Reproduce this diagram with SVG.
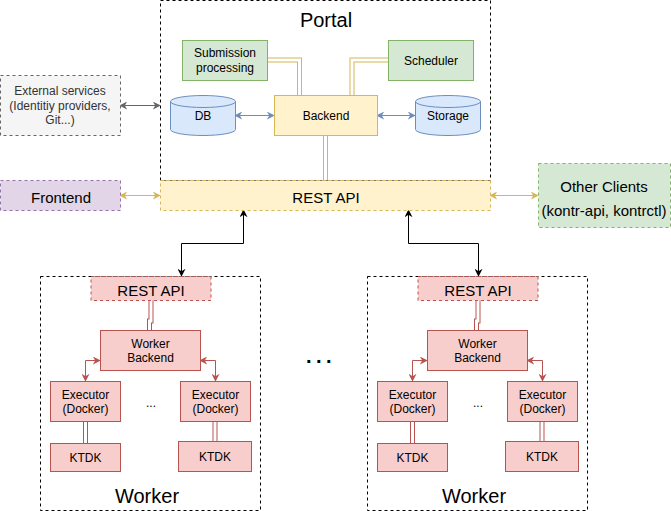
<svg xmlns="http://www.w3.org/2000/svg" width="671" height="511" viewBox="0 0 671 511">
<style>
text{font-family:"Liberation Sans",Arial,sans-serif;fill:#000;text-anchor:middle;dominant-baseline:central}
.dash{fill:none;stroke:#000;stroke-dasharray:3 3}
.green{fill:#d5e8d4;stroke:#82b366}
.yellow{fill:#fff2cc;stroke:#d6b656}
.blue{fill:#dae8fc;stroke:#6c8ebf}
.red{fill:#f8cecc;stroke:#b85450}
.dsh{stroke-dasharray:3 3}
.f12{font-size:12px}
.f15{font-size:15px}
.f20{font-size:20px}
.linkY{fill:none;stroke:#d6b656;stroke-width:5}
.linkR{fill:none;stroke:#b85450;stroke-width:5}
.linkIn{fill:none;stroke:#fff;stroke-width:3}
</style>
<defs>
<marker id="aK" viewBox="0 0 10 10" refX="9" refY="5" markerWidth="8" markerHeight="8" markerUnits="userSpaceOnUse" orient="auto-start-reverse"><path d="M0,0 L10,5 L0,10 L3,5 z" fill="#000"/></marker>
<marker id="aB" viewBox="0 0 10 10" refX="9" refY="5" markerWidth="8" markerHeight="8" markerUnits="userSpaceOnUse" orient="auto-start-reverse"><path d="M0,0 L10,5 L0,10 L3,5 z" fill="#6c8ebf"/></marker>
<marker id="aG" viewBox="0 0 10 10" refX="9" refY="5" markerWidth="8" markerHeight="8" markerUnits="userSpaceOnUse" orient="auto-start-reverse"><path d="M0,0 L10,5 L0,10 L3,5 z" fill="#666666"/></marker>
<marker id="aY" viewBox="0 0 10 10" refX="9" refY="5" markerWidth="8" markerHeight="8" markerUnits="userSpaceOnUse" orient="auto-start-reverse"><path d="M0,0 L10,5 L0,10 L3,5 z" fill="#d6b656"/></marker>
<marker id="aR" viewBox="0 0 10 10" refX="9" refY="5" markerWidth="8" markerHeight="8" markerUnits="userSpaceOnUse" orient="auto-start-reverse"><path d="M0,0 L10,5 L0,10 L3,5 z" fill="#b85450"/></marker>
</defs>

<g id="portal">
<rect class="dash" x="160.5" y="0.5" width="330" height="180"/>
<text class="f20" x="326" y="20">Portal</text>
</g>

<g id="worker1">
<rect class="dash" x="40.5" y="276.5" width="220" height="234"/>
<text class="f20" x="147" y="496">Worker</text>
</g>
<g id="worker2">
<rect class="dash" x="367.5" y="276.5" width="220" height="234"/>
<text class="f20" x="474" y="496">Worker</text>
</g>

<g id="connectors">
<path class="linkY" d="M267,60 H299.5 V95"/><path class="linkIn" d="M267,60 H299.5 V95"/>
<path class="linkY" d="M388,60 H352 V95"/><path class="linkIn" d="M388,60 H352 V95"/>
<path class="linkY" d="M325.5,135 V180"/><path class="linkIn" d="M325.5,135 V180"/>
<path d="M235,115.5 H274" stroke="#6c8ebf" fill="none" marker-start="url(#aB)" marker-end="url(#aB)"/>
<path d="M377,115.5 H415" stroke="#6c8ebf" fill="none" marker-start="url(#aB)" marker-end="url(#aB)"/>
<path d="M120,105.5 H160" stroke="#666666" fill="none" marker-start="url(#aG)" marker-end="url(#aG)"/>
<path d="M120,195.5 H160" stroke="#d6b656" fill="none" marker-start="url(#aY)" marker-end="url(#aY)"/>
<path d="M490,195.5 H538" stroke="#d6b656" fill="none" marker-start="url(#aY)" marker-end="url(#aY)"/>
<path d="M181.5,276 V243.5 H243.5 V210" stroke="#000" fill="none" marker-start="url(#aK)" marker-end="url(#aK)"/>
<path d="M408.5,210 V243.5 H478.5 V276" stroke="#000" fill="none" marker-start="url(#aK)" marker-end="url(#aK)"/>
<!-- worker 1 -->
<path class="linkR" d="M151,300 V321 H149.5 V330"/><path class="linkIn" d="M151,300 V321 H149.5 V330"/>
<path d="M100,360.5 H85.5 V381" stroke="#b85450" fill="none" marker-start="url(#aR)" marker-end="url(#aR)"/>
<path d="M200,360.5 H215.5 V381" stroke="#b85450" fill="none" marker-start="url(#aR)" marker-end="url(#aR)"/>
<path class="linkR" d="M85.5,421 V443"/><path class="linkIn" d="M85.5,421 V443"/>
<path class="linkR" d="M215,421 V441"/><path class="linkIn" d="M215,421 V441"/>
<!-- worker 2 -->
<path class="linkR" d="M478,300 V321 H476.5 V330"/><path class="linkIn" d="M478,300 V321 H476.5 V330"/>
<path d="M427,360.5 H412.5 V381" stroke="#b85450" fill="none" marker-start="url(#aR)" marker-end="url(#aR)"/>
<path d="M527,360.5 H542.5 V381" stroke="#b85450" fill="none" marker-start="url(#aR)" marker-end="url(#aR)"/>
<path class="linkR" d="M412.5,421 V443"/><path class="linkIn" d="M412.5,421 V443"/>
<path class="linkR" d="M542,421 V441"/><path class="linkIn" d="M542,421 V441"/>
</g>

<g id="submission">
<rect class="green" x="182.5" y="40.5" width="85" height="40"/>
<text class="f12" x="225" y="53">Submission</text>
<text class="f12" x="225" y="68">processing</text>
</g>
<g id="scheduler">
<rect class="green" x="388.5" y="40.5" width="85" height="40"/>
<text class="f12" x="431" y="60.5">Scheduler</text>
</g>
<g id="backend">
<rect class="yellow" x="274.5" y="95.5" width="103" height="40"/>
<text class="f12" x="326" y="115.5">Backend</text>
</g>
<g id="db">
<path class="blue" d="M170.5,101.5 a32.5,6 0 0,1 65,0 v28 a32.5,6 0 0,1 -65,0 z"/>
<path d="M170.5,101.5 a32.5,6 0 0,0 65,0" fill="none" stroke="#6c8ebf"/>
<text class="f12" x="203" y="115.5">DB</text>
</g>
<g id="storage">
<path class="blue" d="M415.5,101.5 a32.5,6 0 0,1 65,0 v28 a32.5,6 0 0,1 -65,0 z"/>
<path d="M415.5,101.5 a32.5,6 0 0,0 65,0" fill="none" stroke="#6c8ebf"/>
<text class="f12" x="448" y="115.5">Storage</text>
</g>
<g id="rest-api">
<rect class="yellow dsh" x="160.5" y="180.5" width="330" height="30"/>
<text class="f15" x="326" y="197">REST API</text>
</g>
<g id="external">
<rect x="0.5" y="75.5" width="120" height="60" fill="#f5f5f5" stroke="#666666" class="dsh"/>
<text class="f12" x="60" y="91" style="fill:#333333">External services</text>
<text class="f12" x="60" y="105.5" style="fill:#333333">(Identitiy providers,</text>
<text class="f12" x="60" y="120" style="fill:#333333">Git...)</text>
</g>
<g id="frontend">
<rect x="0.5" y="180.5" width="120" height="30" fill="#e1d5e7" stroke="#9673a6" class="dsh"/>
<text class="f15" x="61" y="197">Frontend</text>
</g>
<g id="other-clients">
<rect class="green dsh" x="538.5" y="163.5" width="132" height="64"/>
<text class="f15" x="604" y="186">Other Clients</text>
<text class="f15" x="604" y="210">(kontr-api, kontrctl)</text>
</g>

<g id="w1-rest">
<rect class="red dsh" x="91" y="276.5" width="120" height="24"/>
<text class="f15" x="151" y="290">REST API</text>
</g>
<g id="w1-backend">
<rect class="red" x="100.5" y="330.5" width="100" height="40"/>
<text class="f12" x="150.5" y="344">Worker</text>
<text class="f12" x="150.5" y="358">Backend</text>
</g>
<g id="w1-exec1">
<rect class="red" x="50.5" y="381.5" width="70" height="40"/>
<text class="f12" x="85.5" y="394.5">Executor</text>
<text class="f12" x="85.5" y="408.5">(Docker)</text>
</g>
<g id="w1-exec2">
<rect class="red" x="180.5" y="381.5" width="70" height="40"/>
<text class="f12" x="215.5" y="394.5">Executor</text>
<text class="f12" x="215.5" y="408.5">(Docker)</text>
</g>
<text class="f12" x="151" y="403">...</text>
<g id="w1-ktdk1">
<rect class="red" x="50.5" y="443.5" width="70" height="28"/>
<text class="f12" x="85.5" y="457.5">KTDK</text>
</g>
<g id="w1-ktdk2">
<rect class="red" x="178.5" y="441.5" width="73" height="30"/>
<text class="f12" x="215" y="456.5">KTDK</text>
</g>

<g id="w2-rest">
<rect class="red dsh" x="418" y="276.5" width="120" height="24"/>
<text class="f15" x="478" y="290">REST API</text>
</g>
<g id="w2-backend">
<rect class="red" x="427.5" y="330.5" width="100" height="40"/>
<text class="f12" x="477.5" y="344">Worker</text>
<text class="f12" x="477.5" y="358">Backend</text>
</g>
<g id="w2-exec1">
<rect class="red" x="377.5" y="381.5" width="70" height="40"/>
<text class="f12" x="412.5" y="394.5">Executor</text>
<text class="f12" x="412.5" y="408.5">(Docker)</text>
</g>
<g id="w2-exec2">
<rect class="red" x="507.5" y="381.5" width="70" height="40"/>
<text class="f12" x="542.5" y="394.5">Executor</text>
<text class="f12" x="542.5" y="408.5">(Docker)</text>
</g>
<text class="f12" x="478" y="403">...</text>
<g id="w2-ktdk1">
<rect class="red" x="377.5" y="443.5" width="70" height="28"/>
<text class="f12" x="412.5" y="457.5">KTDK</text>
</g>
<g id="w2-ktdk2">
<rect class="red" x="505.5" y="441.5" width="73" height="30"/>
<text class="f12" x="542" y="456.5">KTDK</text>
</g>

<text x="321" y="356" style="font-size:20px;font-weight:bold;letter-spacing:4.5px">...</text>
</svg>
